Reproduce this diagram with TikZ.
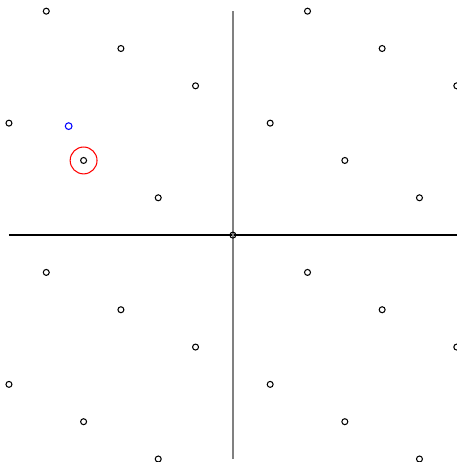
\documentclass[tikz,border=0pt]{standalone}
\usepackage{tikz}
\usetikzlibrary{positioning}

\begin{document}
\begin{tikzpicture}[
    x=1cm, y=1cm,
    pt/.style={draw, circle, minimum size=0.08cm, inner sep=0pt, line width=0.4pt},
    probe/.style={draw=blue, circle, minimum size=0.09cm, inner sep=0pt, line width=0.4pt},
    ring/.style={draw=red, circle, minimum size=0.36cm, inner sep=0pt, line width=0.4pt},
    axis/.style={line width=0.6pt}
]
\useasboundingbox (-3.12,-3.04) rectangle (3.0,3.15);
\clip (-3.12,-3.04) rectangle (3.0,3.15);

% axes
\coordinate (xl) at (-3,0);
\coordinate (xr) at (3,0);
\coordinate (yb) at (0,-3);
\coordinate (yt) at (0,3);
\draw[axis] (xl) -- (xr);
\draw[axis, gray] (yb) -- (yt);

% lattice points
\foreach \p [count=\i] in {
    (-2.5,3), (-1.5,2.5), (-0.5,2), (-3,1.5), (-2,1), (-1,0.5), (0,0),
    (-2.5,-0.5), (-1.5,-1), (-0.5,-1.5), (-3,-2), (-2,-2.5), (-1,-3),
    (1,3), (2,2.5), (3,2), (0.5,1.5), (1.5,1), (2.5,0.5),
    (1,-0.5), (2,-1), (3,-1.5), (0.5,-2), (1.5,-2.5), (2.5,-3)}
    \node[pt] (p\i) at \p {};

% nearest point and query
\node[ring] (near) at (p5) {};
\node[probe] (query) at (-2.2,1.46) {};

\end{tikzpicture}
\end{document}
